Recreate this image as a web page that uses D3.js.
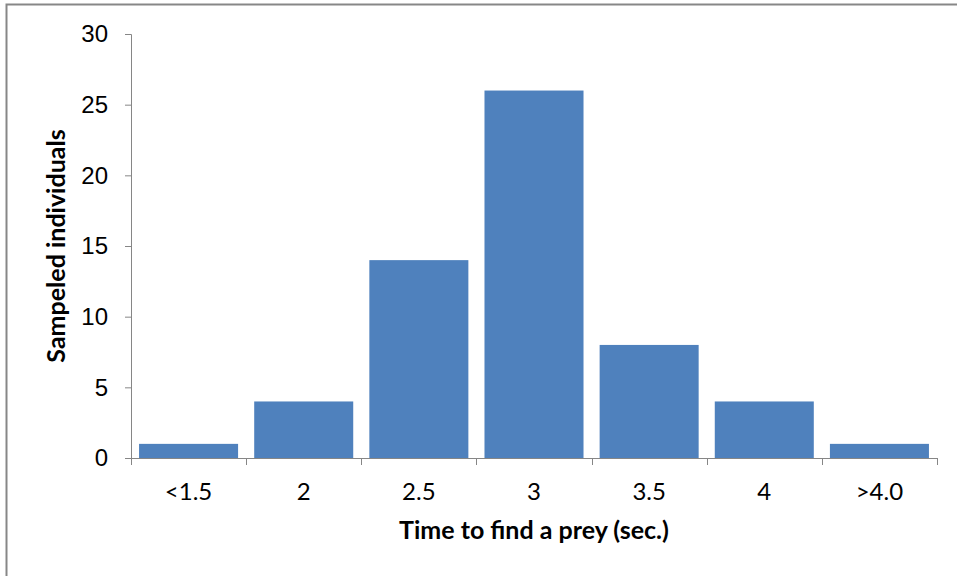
<!DOCTYPE html>
<html>
<head>
<meta charset="utf-8">
<script src="https://cdn.jsdelivr.net/npm/d3@7"></script>
<style>
  body { margin: 0; background: #fff; }
  svg { display: block; font-family: Lato, "Open Sans", sans-serif; }
</style>
</head>
<body>
<svg id="bar-chart" width="957" height="576"></svg>
<script>
// data
var categories = ['<1.5', '2', '2.5', '3', '3.5', '4', '>4.0'];
var counts = [1, 4, 14, 26, 8, 4, 1];
var yTicks = [0, 5, 10, 15, 20, 25, 30];

var margin = { top: 34, left: 131, bottom: 118, right: 20 };

var svg = d3.select('#bar-chart');
var width = svg.attr('width') - margin.left - margin.right;
var height = svg.attr('height') - margin.top - margin.bottom;

// outer chart border (runs off the right and bottom of the picture)
svg.append('rect')
   .attr('x', 6.5).attr('y', 4.5)
   .attr('width', 1000).attr('height', 700)
   .attr('fill', 'none')
   .attr('stroke', '#878787')
   .attr('stroke-width', 2);

var xScale = d3.scaleBand()
               .domain(categories)
               .range([0, width])
               .paddingInner(0.14)
               .paddingOuter(0.07);

var yScale = d3.scaleLinear()
               .domain([0, 30])
               .range([height, 0]);

var g = svg.append('g')
           .attr('transform', 'translate(' + margin.left + ',' + margin.top + ')');

// bars
g.append('g')
 .selectAll('rect')
 .data(categories)
 .enter()
 .append('rect')
 .attr('x', function(d){ return xScale(d); })
 .attr('y', function(d, i){ return yScale(counts[i]); })
 .attr('width', xScale.bandwidth())
 .attr('height', function(d, i){ return height - yScale(counts[i]); })
 .attr('fill', '#4F81BD');

// y axis
var yAxis = d3.axisLeft(yScale).tickValues(yTicks).tickSize(6).tickPadding(17);
var yg = g.append('g').call(yAxis);
yg.select('.domain').attr('stroke', '#868686').attr('d', 'M-6,0.5H0.5V' + (height + 0.5));
yg.selectAll('.tick line').attr('stroke', '#868686');
yg.selectAll('.tick text').attr('font-size', 24).attr('fill', '#000');

// x axis: ticks at band boundaries
var step = width / categories.length;
var xg = g.append('g').attr('transform', 'translate(0,' + height + ')');
xg.append('line')
  .attr('x1', 0).attr('x2', width)
  .attr('y1', 0.5).attr('y2', 0.5)
  .attr('stroke', '#868686');
xg.selectAll('.xtick')
  .data(d3.range(categories.length + 1))
  .enter()
  .append('line')
  .attr('x1', function(d){ return Math.round(d * step) + 0.5; })
  .attr('x2', function(d){ return Math.round(d * step) + 0.5; })
  .attr('y1', 0).attr('y2', 7)
  .attr('stroke', '#868686');
xg.selectAll('.xlabel')
  .data(categories)
  .enter()
  .append('text')
  .attr('x', function(d){ return xScale(d) + xScale.bandwidth() / 2; })
  .attr('y', 42)
  .attr('text-anchor', 'middle')
  .attr('font-size', 24)
  .text(function(d){ return d; });

// axis titles
svg.append('text')
   .attr('x', margin.left + width / 2)
   .attr('y', 539)
   .attr('text-anchor', 'middle')
   .attr('font-size', 25)
   .attr('font-weight', 'bold')
   .text('Time to find a prey (sec.)');

svg.append('text')
   .attr('transform', 'translate(65,' + (margin.top + height / 2) + ') rotate(-90)')
   .attr('text-anchor', 'middle')
   .attr('font-size', 25)
   .attr('font-weight', 'bold')
   .text('Sampeled individuals');
</script>
</body>
</html>
